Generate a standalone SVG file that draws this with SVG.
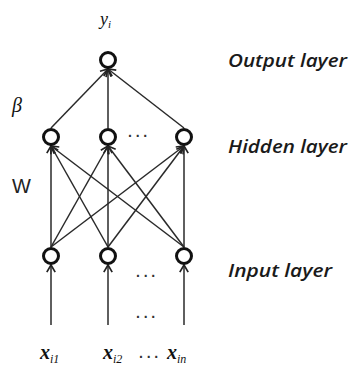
<svg xmlns="http://www.w3.org/2000/svg" width="353" height="374" viewBox="0 0 353 374">
<defs>
<marker id="ah" markerUnits="userSpaceOnUse" markerWidth="12" markerHeight="12" viewBox="-8 -5 10 10" refX="0" refY="0" orient="auto">
<path d="M-6,-3.5 L0,0 L-6,3.5" fill="none" stroke="#222" stroke-width="1.4"/>
</marker>
</defs>
<style>
.n{fill:#fff;stroke:#111;stroke-width:3}
.e{stroke:#2a2a2a;stroke-width:1.5;fill:none;marker-end:url(#ah)}
.lab{font-family:"Open Sans",sans-serif;font-style:italic;font-weight:600;font-size:18.5px;fill:#1a1a1a}
.m{font-family:"Liberation Serif",serif;font-style:italic;fill:#111}
.dots{font-family:"Liberation Sans",sans-serif;font-weight:bold;font-size:14px;fill:#333;letter-spacing:3px}
</style>
<rect width="353" height="374" fill="#fff"/>
<g id="connectors">
<line class="e" x1="51" y1="128" x2="108" y2="69"/>
<line class="e" x1="108" y1="128" x2="108" y2="69"/>
<line class="e" x1="184" y1="128" x2="108" y2="69"/>
<line class="e" x1="51" y1="247" x2="51" y2="146"/>
<line class="e" x1="108" y1="247" x2="51" y2="146"/>
<line class="e" x1="184" y1="247" x2="51" y2="146"/>
<line class="e" x1="51" y1="247" x2="108" y2="146"/>
<line class="e" x1="108" y1="247" x2="108" y2="146"/>
<line class="e" x1="184" y1="247" x2="108" y2="146"/>
<line class="e" x1="51" y1="247" x2="184" y2="146"/>
<line class="e" x1="108" y1="247" x2="184" y2="146"/>
<line class="e" x1="184" y1="247" x2="184" y2="146"/>
<line class="e" x1="51" y1="325" x2="51" y2="265"/>
<line class="e" x1="108" y1="325" x2="108" y2="265"/>
<line class="e" x1="184" y1="325" x2="184" y2="265"/>
</g>
<g id="output"><circle class="n" cx="108" cy="60" r="7.5"/></g>
<g id="hidden1"><circle class="n" cx="51" cy="137" r="7.5"/></g>
<g id="hidden2"><circle class="n" cx="108" cy="137" r="7.5"/></g>
<g id="hidden3"><circle class="n" cx="184" cy="137" r="7.5"/></g>
<g id="input1"><circle class="n" cx="51" cy="256" r="7.5"/></g>
<g id="input2"><circle class="n" cx="108" cy="256" r="7.5"/></g>
<g id="input3"><circle class="n" cx="184" cy="256" r="7.5"/></g>
<text class="dots" x="128" y="141">···</text>
<text class="dots" x="136" y="281">···</text>
<text class="dots" x="136" y="322">···</text>
<text class="dots" x="139" y="362">···</text>
<text class="m" x="100" y="25" font-size="18">y<tspan font-size="11" dy="3">i</tspan></text>
<text class="m" x="12" y="112" font-size="20">β</text>
<text x="12" y="193" font-family="Liberation Sans,sans-serif" font-size="20" fill="#222">W</text>
<text class="m" x="40" y="359" font-size="20" font-weight="bold">x<tspan font-size="12" font-weight="normal" dy="4">i1</tspan></text>
<text class="m" x="103" y="359" font-size="20" font-weight="bold">x<tspan font-size="12" font-weight="normal" dy="4">i2</tspan></text>
<text class="m" x="167" y="359" font-size="20" font-weight="bold">x<tspan font-size="12" font-weight="normal" dy="4">in</tspan></text>
<text class="lab" x="228" y="67" textLength="119" lengthAdjust="spacingAndGlyphs">Output layer</text>
<text class="lab" x="228" y="153" textLength="119" lengthAdjust="spacingAndGlyphs">Hidden layer</text>
<text class="lab" x="228" y="277" textLength="104" lengthAdjust="spacingAndGlyphs">Input layer</text>
</svg>
